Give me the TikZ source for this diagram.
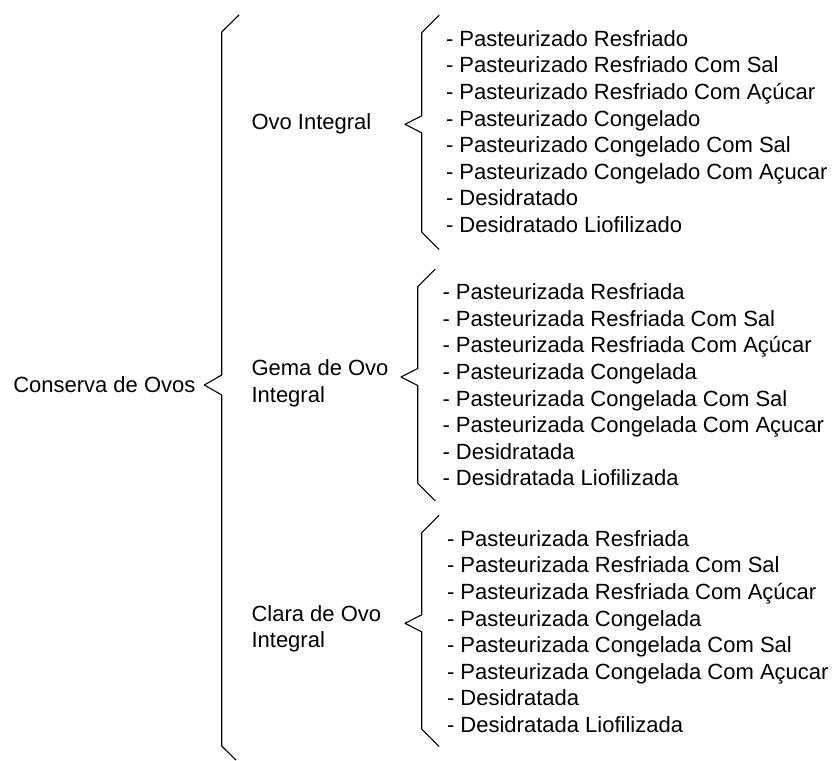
\documentclass[tikz,border=0pt]{standalone}
\usepackage{fontspec}
\setmainfont{Liberation Sans}
\begin{document}
\begin{tikzpicture}[x=1pt, y=-1pt, line join = round, line width=1.1pt,
		txt/.style={inner sep=0pt, font=\fontsize{22}{26.6}\selectfont},
		item/.style={txt, anchor=west, text height=16pt, text depth=0pt},
		grupo/.style={txt, anchor=west, align=left}]
				\def\d{26.6}
				\useasboundingbox (0,0) rectangle (832,760);
				% chave grande
				\draw (239,15) -- (221.7,32) coordinate (T) -- (221.7,375) -- (204.3,385) coordinate (P) -- (221.7,395) -- (221.7,746) coordinate (B) -- (236,760);
				\node[txt, anchor=east] (conserva) at (196,385) {Conserva de Ovos};
				% chaves menores
				\foreach \x/\a/\m/\b in {421.7/32.7/124.3/232, 417.7/286.7/377/483.3, 421.7/532.7/623.3/729}
					\draw (\x+17.5,\a-17.5) -- (\x,\a) -- (\x,\m-8.5) -- (\x-16.7,\m) -- (\x,\m+8.5) -- (\x,\b) -- (\x+17.5,\b+17.5);
				\node[item] (ovo) at (251,121.7) {Ovo Integral};
				\node[grupo] (gema) at (251,383.5) {Gema de Ovo\\Integral};
				\node[grupo] (clara) at (251,629) {Clara de Ovo\\Integral};
				% itens
				\foreach \t [count=\i from 0] in {Pasteurizado Resfriado, Pasteurizado Resfriado Com Sal, Pasteurizado Resfriado Com Açúcar, Pasteurizado Congelado, Pasteurizado Congelado Com Sal, Pasteurizado Congelado Com Açucar, Desidratado, Desidratado Liofilizado}
					\node[item] (o\i) at (445.5,38.3+\i*\d) {- \t};
				\foreach \t [count=\i from 0] in {Pasteurizada Resfriada, Pasteurizada Resfriada Com Sal, Pasteurizada Resfriada Com Açúcar, Pasteurizada Congelada, Pasteurizada Congelada Com Sal, Pasteurizada Congelada Com Açucar, Desidratada, Desidratada Liofilizada}
					{\node[item] (g\i) at (442,291.7+\i*\d) {- \t};
					\node[item] (c\i) at (446.5,538.3+\i*\d) {- \t};}
			\end{tikzpicture}
\end{document}
